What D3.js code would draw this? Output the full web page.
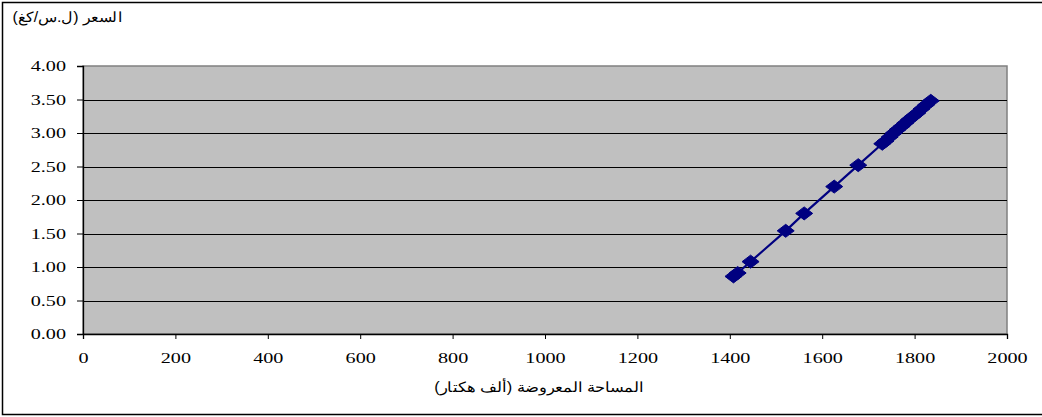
<!DOCTYPE html>
<html>
<head>
<meta charset="utf-8">
<script src="https://cdn.jsdelivr.net/npm/d3@7"></script>
<style>
  html, body { margin: 0; padding: 0; background: #fff; }
  svg { display: block; }
</style>
</head>
<body>
<svg id="chart" width="1042" height="417"></svg>
<script>
// Offered area (thousand hectares) and price (SYP/kg)
const area  = [1408, 1417, 1445, 1521, 1561, 1626, 1678, 1730, 1737, 1746, 1755, 1763, 1772, 1780, 1788, 1797, 1806, 1815, 1825, 1835];
const price = [0.86, 0.91, 1.08, 1.54, 1.80, 2.20, 2.52, 2.84, 2.88, 2.94, 3.00, 3.05, 3.10, 3.15, 3.20, 3.25, 3.30, 3.36, 3.42, 3.48];
const xTicks = [0, 200, 400, 600, 800, 1000, 1200, 1400, 1600, 1800, 2000];
const yTicks = [0, 0.5, 1, 1.5, 2, 2.5, 3, 3.5, 4];
const xTitle = "المساحة المعروضة (ألف هكتار)";
const yTitle = "السعر (ل.س/كغ)";

const svg = d3.select("#chart");
const W = 1042;
const plot = { left: 83, top: 66, right: 1007, bottom: 334 };

// outer frame
svg.append("rect")
  .attr("x", 2.5).attr("y", 2.5)
  .attr("width", W).attr("height", 412)
  .attr("fill", "#fff").attr("stroke", "#000").attr("stroke-width", 1.5);

const x = d3.scaleLinear().domain([0, 2000]).range([plot.left, plot.right]);
const y = d3.scaleLinear().domain([0, 4]).range([plot.bottom, plot.top]);

// plot area
svg.append("rect")
  .attr("x", plot.left).attr("y", plot.top)
  .attr("width", plot.right - plot.left).attr("height", plot.bottom - plot.top)
  .attr("fill", "#c0c0c0").attr("stroke", "#808080").attr("stroke-width", 1.5);

// horizontal gridlines
svg.append("g").selectAll("line")
  .data(yTicks.filter(v => v > 0 && v < 4))
  .join("line")
  .attr("x1", plot.left).attr("x2", plot.right)
  .attr("y1", d => Math.round(y(d)) + 0.5).attr("y2", d => Math.round(y(d)) + 0.5)
  .attr("stroke", "#000").attr("stroke-width", 1);

const tickFont = "'Liberation Serif', 'Times New Roman', serif";
const stretch = 1.3; // tick labels are drawn horizontally widened

function styleTicks(sel, ox, oy) {
  sel.selectAll(".tick text").each(function () {
    const t = d3.select(this);
    t.attr("x", 0).attr("y", 0)
      .attr("transform", `translate(${ox},${oy}) scale(${stretch},1)`)
      .style("font-family", tickFont)
      .style("font-size", "15.5px")
      .attr("fill", "#000");
  });
}

// y axis
const yAxis = svg.append("g")
  .attr("transform", `translate(${plot.left},0)`)
  .call(d3.axisLeft(y).tickValues(yTicks).tickFormat(d3.format(".2f")).tickSize(6).tickPadding(11));
yAxis.select(".domain").attr("stroke", "#000").attr("stroke-width", 1.3);
styleTicks(yAxis, -17, 0);

// x axis
const xAxis = svg.append("g")
  .attr("transform", `translate(0,${plot.bottom})`)
  .call(d3.axisBottom(x).tickValues(xTicks).tickFormat(d3.format("d")).tickSize(5).tickPadding(13));
xAxis.select(".domain").attr("stroke", "#000").attr("stroke-width", 1.3);
styleTicks(xAxis, 0, 18);

// series line
const pts = area.map((a, i) => [a, price[i]]);
svg.append("path")
  .datum(pts)
  .attr("fill", "none")
  .attr("stroke", "#000080")
  .attr("stroke-width", 2.2)
  .attr("d", d3.line().x(d => x(d[0])).y(d => y(d[1])));

// diamond markers
const diamond = "M0,-6.5L8.5,0L0,6.5L-8.5,0Z";
svg.append("g").selectAll("path")
  .data(pts)
  .join("path")
  .attr("transform", d => `translate(${x(d[0])},${y(d[1])})`)
  .attr("d", diamond)
  .attr("fill", "#000080")
  .attr("stroke", "#000080")
  .attr("stroke-width", 1)
  .attr("stroke-linejoin", "round");

// titles
svg.append("text")
  .attr("transform", `translate(${(plot.left + plot.right) / 2 - 6},392) scale(1.17,1)`)
  .attr("text-anchor", "middle")
  .attr("direction", "rtl")
  .attr("font-family", "'Liberation Sans', Arial, sans-serif")
  .attr("font-size", 14)
  .attr("fill", "#000")
  .text(xTitle);

svg.append("text")
  .attr("transform", "translate(122,22) scale(1.13,1)")
  .attr("text-anchor", "start")
  .attr("direction", "rtl")
  .attr("font-family", "'Liberation Sans', Arial, sans-serif")
  .attr("font-size", 14)
  .attr("fill", "#000")
  .text(yTitle);
</script>
</body>
</html>
